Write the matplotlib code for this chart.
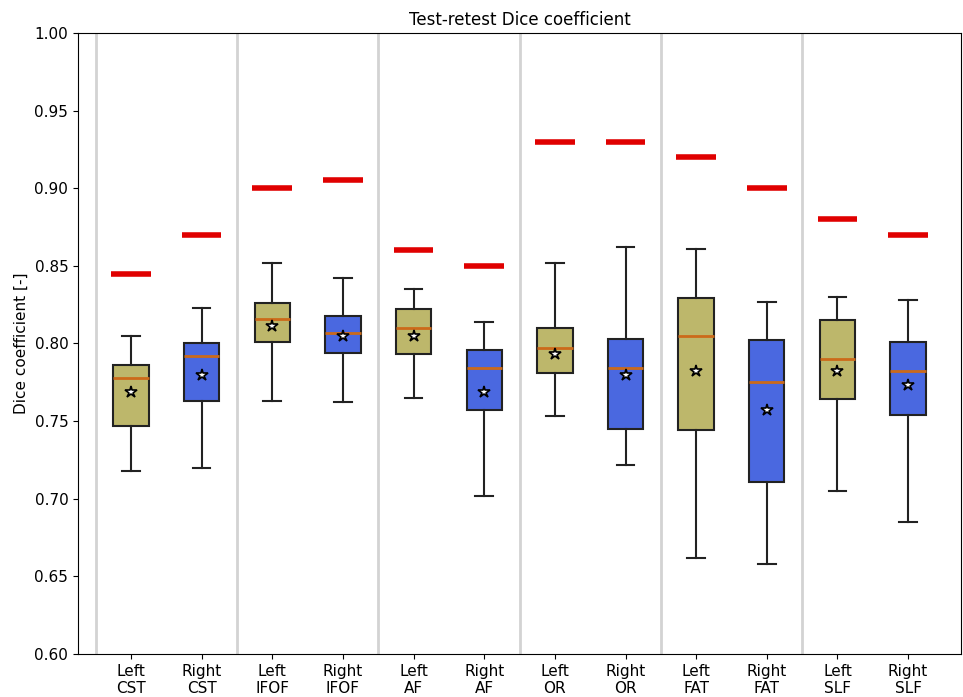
import matplotlib
matplotlib.use("Agg")
import matplotlib.pyplot as plt

# values
labels = ["Left\nCST", "Right\nCST", "Left\nIFOF", "Right\nIFOF", "Left\nAF", "Right\nAF",
          "Left\nOR", "Right\nOR", "Left\nFAT", "Right\nFAT", "Left\nSLF", "Right\nSLF"]
whisker_low = [0.718, 0.720, 0.763, 0.762, 0.765, 0.702, 0.753, 0.722, 0.662, 0.658, 0.705, 0.685]
q1 = [0.747, 0.763, 0.801, 0.794, 0.793, 0.757, 0.781, 0.745, 0.744, 0.711, 0.764, 0.754]
median = [0.778, 0.792, 0.816, 0.807, 0.810, 0.784, 0.797, 0.784, 0.805, 0.775, 0.790, 0.782]
q3 = [0.786, 0.800, 0.826, 0.818, 0.822, 0.796, 0.810, 0.803, 0.829, 0.802, 0.815, 0.801]
whisker_high = [0.805, 0.823, 0.852, 0.842, 0.835, 0.814, 0.852, 0.862, 0.861, 0.827, 0.830, 0.828]
mean = [0.769, 0.780, 0.811, 0.805, 0.805, 0.769, 0.793, 0.780, 0.782, 0.757, 0.782, 0.773]
reference = [0.845, 0.870, 0.900, 0.905, 0.860, 0.850, 0.930, 0.930, 0.920, 0.900, 0.880, 0.870]

left_color = "#bdb76b"
right_color = "#4a68e0"

stats = []
for i in range(len(labels)):
    stats.append({"whislo": whisker_low[i], "q1": q1[i], "med": median[i], "q3": q3[i],
                  "whishi": whisker_high[i], "mean": mean[i], "fliers": []})

positions = list(range(1, len(labels) + 1))

fig = plt.figure(figsize=(9.63, 6.97), dpi=100)
ax = fig.add_axes([0.081, 0.0617, 0.917, 0.891])

for x in [0.5, 2.5, 4.5, 6.5, 8.5, 10.5]:
    ax.axvline(x, color="#d3d3d3", lw=2, zorder=0)

bp = ax.bxp(stats, positions=positions, widths=0.5, patch_artist=True, showmeans=True,
            boxprops=dict(edgecolor="#222222", linewidth=1.5),
            whiskerprops=dict(color="#222222", linewidth=1.5),
            capprops=dict(color="#222222", linewidth=1.5),
            medianprops=dict(color="#cc6a1a", linewidth=2),
            meanprops=dict(marker="*", markerfacecolor="white", markeredgecolor="black",
                           markersize=9, markeredgewidth=1.2))
for i, box in enumerate(bp["boxes"]):
    box.set_facecolor(left_color if i % 2 == 0 else right_color)

ax.hlines(reference, [p - 0.28 for p in positions], [p + 0.28 for p in positions],
          colors="#e00000", linewidth=4, zorder=3)

ax.set_xlim(0.25, 12.75)
ax.set_ylim(0.6, 1.0)
ax.set_yticks([0.60, 0.65, 0.70, 0.75, 0.80, 0.85, 0.90, 0.95, 1.00])
ax.set_xticks(positions)
ax.set_xticklabels(labels)
ax.tick_params(labelsize=11)
ax.set_ylabel("Dice coefficient [-]", fontsize=11)
ax.set_title("Test-retest Dice coefficient", fontsize=12)

fig.savefig("out.png", dpi=100)
